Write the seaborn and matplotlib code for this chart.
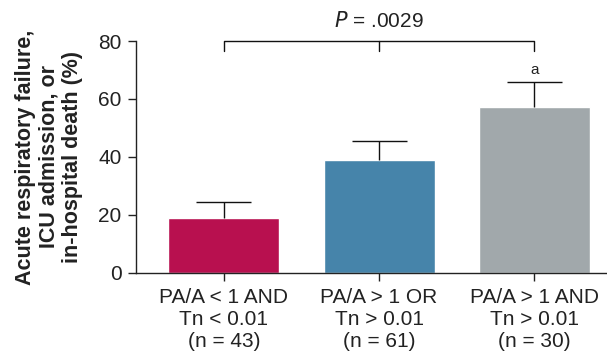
import numpy as np
import matplotlib
matplotlib.use("Agg")
import matplotlib.pyplot as plt
import seaborn as sns
import pandas as pd

# data
groups = ["PA/A < 1 AND\nTn < 0.01\n(n = 43)",
          "PA/A > 1 OR\nTn > 0.01\n(n = 61)",
          "PA/A > 1 AND\nTn > 0.01\n(n = 30)"]
rates = [19.0, 39.0, 57.2]
upper_err = [5.5, 6.5, 8.5]
colors = ["#B8104F", "#4684AA", "#A1A8AB"]
p_label = ".0029"

sns.set_style("ticks")
plt.rcParams["font.family"] = ["Liberation Sans", "DejaVu Sans"]

df = pd.DataFrame({"group": groups, "rate": rates})

fig = plt.figure(figsize=(6.07, 3.6), dpi=100)
ax = fig.add_axes([0.224, 0.2417, 0.774, 0.6444])

sns.barplot(data=df, x="group", y="rate", hue="group", palette=colors,
            width=0.714, legend=False, ax=ax, errorbar=None, saturation=1)

# upper-only error bars
x = np.arange(len(groups))
tops = np.array(rates) + np.array(upper_err)
ax.vlines(x, rates, tops, color="#111111", lw=1)
ax.hlines(tops, x - 0.177, x + 0.177, color="#111111", lw=1)
ax.text(x[2], tops[2] + 1.8, "a", ha="center", va="bottom", fontsize=11,
        color="#222222")

# significance bracket
ax.plot([x[0], x[0], x[2], x[2]], [76.6, 80, 80, 76.6], color="#111111",
        lw=1, clip_on=False)
ax.plot([x[1], x[1]], [80, 76.6], color="#111111", lw=1, clip_on=False)
ax.text(x[1], 83.5, r"$\it{P}$ = " + p_label, ha="center", va="bottom",
        fontsize=15, color="#222222")

ax.set_ylim(0, 80)
ax.set_xlim(-0.566, 2.46)
ax.set_yticks([0, 20, 40, 60, 80])
ax.set_xlabel("")
ax.set_ylabel("Acute respiratory failure,\nICU admission, or\nin-hospital death (%)",
              fontsize=15.5, fontweight="bold", labelpad=11, linespacing=1.15,
              color="#222222")
ax.tick_params(axis="both", labelsize=15, colors="#222222", length=5.5,
               width=1, pad=5)
for lbl in ax.get_xticklabels():
    lbl.set_linespacing(1.2)
sns.despine(ax=ax)
for s in ["left", "bottom"]:
    ax.spines[s].set_color("#222222")
    ax.spines[s].set_linewidth(1)

fig.savefig("out.png", dpi=100)
